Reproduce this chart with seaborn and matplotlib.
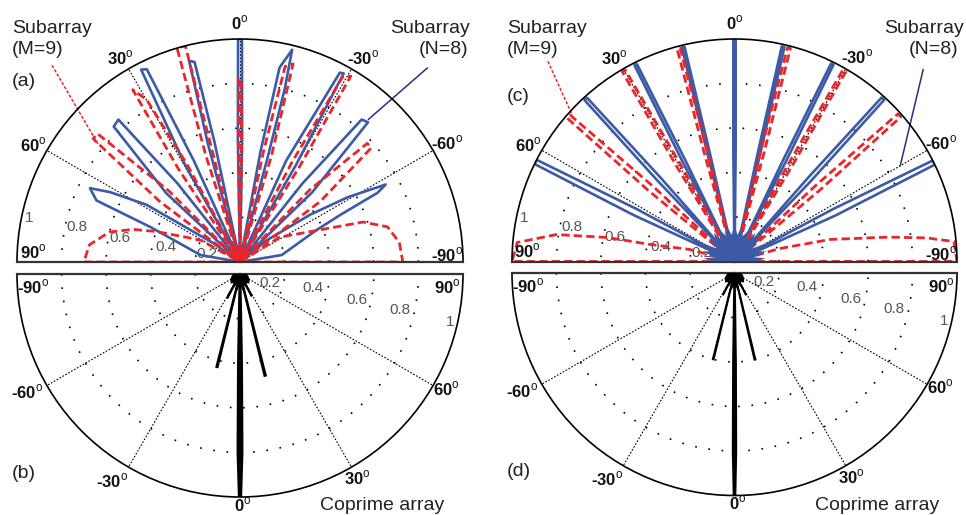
"""Subarray and coprime array beam patterns, four half-polar panels."""

import numpy as np
import matplotlib

matplotlib.use("Agg")
import matplotlib.pyplot as plt
import seaborn as sns

sns.set_theme(style="white")
plt.rcParams["font.family"] = ["Liberation Sans", "DejaVu Sans"]
plt.rcParams["mathtext.fontset"] = "custom"
plt.rcParams["mathtext.rm"] = "Liberation Sans"

BLUE = "#3c5ba6"
RED = "#e8262b"
NAVY = "#27307f"

# ---- data: (theta in degrees, magnitude) traced along each pattern ----
# panel (a), subarray N=8 (blue)
A_BLUE_DEG = [1.0, 1.0, 0.5, -0.5, -1.0, -1.0,
              12.0, 12.0, 12.8, 14.2, 15.2, 15.2,
              24.5, 24.5, 25.8, 27.2, 29.5, 29.5,
              38.5, 38.5, 40.5, 43.0, 47.0, 47.0,
              54.9, 54.9, 58.5, 61.7, 63.8, 66.8, 68.7, 80.0, 80.0,
              -10.5, -10.5, -11.5, -13.8, -14.5, -14.8, -14.8,
              -24.5, -24.5, -27.8, -28.8, -30.0, -30.0,
              -38.5, -38.5, -40.5, -42.5, -46.0, -46.0,
              -51.0, -51.0, -56.0, -59.0, -62.0, -63.3, -64.8, -67.4, -80.5, -80.5]
A_BLUE_R = [0, 0.55, 1.0, 1.0, 0.55, 0,
            0, 0.55, 0.92, 0.93, 0.55, 0,
            0, 0.5, 0.96, 0.97, 0.5, 0,
            0, 0.45, 0.84, 0.83, 0.45, 0,
            0, 0.15, 0.49, 0.66, 0.75, 0.70, 0.43, 0.18, 0,
            0, 0.5, 0.89, 0.98, 0.8, 0.5, 0,
            0, 0.5, 0.96, 0.965, 0.5, 0,
            0, 0.45, 0.84, 0.85, 0.45, 0,
            0, 0.156, 0.38, 0.565, 0.74, 0.69, 0.5, 0.37, 0.19, 0]

# panel (a), subarray M=9 (red)
A_RED_DEG = [0.8, 0.8, 0.3, -0.3, -0.8, -0.8,
             14.0, 14.0, 14.2, 16.4, 17.8, 17.8,
             28.5, 28.5, 29.9, 31.9, 33.5, 33.5,
             45.0, 45.0, 48.0, 50.0, 53.0, 53.0,
             61.0, 61.0, 65.0, 70.0, 73.0, 77.0, 83.5, 90.0, 90.0,
             -12.0, -12.0, -13.0, -15.0, -16.5, -16.5,
             -27.5, -27.5, -29.0, -30.8, -32.0, -32.0,
             -44.0, -44.0, -47.0, -49.0, -53.0, -53.0,
             -58.0, -58.0, -72.0, -76.6, -83.0, -90.0, -90.0]
A_RED_R = [0, 0.5, 0.82, 0.82, 0.5, 0,
           0, 0.5, 1.0, 1.0, 0.5, 0,
           0, 0.5, 0.84, 0.91, 0.5, 0,
           0, 0.45, 0.86, 0.86, 0.45, 0,
           0, 0.2, 0.26, 0.40, 0.50, 0.60, 0.68, 0.70, 0,
           0, 0.5, 0.9, 0.92, 0.5, 0,
           0, 0.5, 0.95, 0.97, 0.5, 0,
           0, 0.45, 0.78, 0.78, 0.45, 0,
           0, 0.21, 0.58, 0.68, 0.72, 0.73, 0]

# panel (c), subarray N=8 (blue)
C_BLUE_DEG = [0.6, 0.6, 0.3, -0.3, -0.6, -0.6,
              12.8, 12.8, 13.1, 13.8, 14.1, 14.1,
              25.9, 25.9, 26.3, 27.0, 27.5, 27.5,
              41.4, 41.4, 42.0, 42.9, 43.6, 43.6,
              61.8, 61.8, 62.8, 64.0, 65.3, 65.3,
              -12.1, -12.1, -12.4, -13.1, -13.4, -13.4,
              -25.6, -25.6, -26.0, -26.7, -27.2, -27.2,
              -41.3, -41.3, -41.9, -42.8, -43.5, -43.5,
              -62.0, -62.0, -63.0, -64.2, -65.5, -65.5]
C_BLUE_R = [0, 0.5, 1.0, 1.0, 0.5, 0,
            0, 0.5, 0.99, 0.99, 0.5, 0,
            0, 0.5, 0.99, 0.99, 0.5, 0,
            0, 0.5, 0.99, 0.99, 0.5, 0,
            0, 0.5, 1.0, 1.0, 0.5, 0,
            0, 0.5, 0.99, 0.99, 0.5, 0,
            0, 0.5, 0.99, 0.99, 0.5, 0,
            0, 0.5, 0.99, 0.99, 0.5, 0,
            0, 0.5, 1.0, 1.0, 0.5, 0]
# sidelobe clutter around the origin in (c)
C_BLOB_DEG = [-90, -90, -84, -78, -72, -66, -60, -54, -48, -42, -36, -30, -24, -18, -12, -6,
              0, 6, 12, 18, 24, 30, 36, 42, 48, 54, 60, 66, 72, 78, 84, 90, 90]
C_BLOB_R = [0, 0.10, 0.14, 0.09, 0.15, 0.11, 0.16, 0.10, 0.15, 0.12, 0.16, 0.11, 0.15, 0.12, 0.16, 0.12,
            0.17, 0.12, 0.16, 0.12, 0.15, 0.11, 0.16, 0.12, 0.15, 0.10, 0.16, 0.11, 0.15, 0.09, 0.14, 0.10, 0]

# panel (c), subarray M=9 (red)
C_RED_DEG = [13.8, 13.8, 14.3, 15.1, 15.6, 15.6,
             29.1, 29.1, 29.7, 30.6, 31.3, 31.3,
             47.3, 47.3, 48.3, 49.4, 50.5, 50.5,
             75.0, 75.0, 78.6, 79.3, 81.4, 85.0, 90.0, 90.0,
             -13.4, -13.4, -13.9, -14.7, -15.2, -15.2,
             -28.9, -28.9, -29.5, -30.4, -31.1, -31.1,
             -46.9, -46.9, -47.9, -49.0, -50.1, -50.1,
             -74.0, -74.0, -77.0, -81.0, -83.0, -84.8, -90.0, -90.0]
C_RED_R = [0, 0.5, 0.99, 0.99, 0.5, 0,
           0, 0.5, 0.99, 0.99, 0.5, 0,
           0, 0.5, 0.99, 0.99, 0.5, 0,
           0, 0.21, 0.39, 0.58, 0.81, 0.98, 1.0, 0,
           0, 0.5, 0.99, 0.99, 0.5, 0,
           0, 0.5, 0.99, 0.99, 0.5, 0,
           0, 0.5, 0.99, 0.99, 0.5, 0,
           0, 0.21, 0.44, 0.70, 0.87, 0.99, 1.0, 0]

# panels (b) and (d), coprime array (black)
B_LOBE_DEG = [-2.2, -2.2, -1.3, -0.8, -0.3, 0.3, 0.8, 1.3, 2.2, 2.2,
              -14.8, -14.8, -14.3, -13.5, -13.0, -13.0,
              13.0, 13.0, 13.5, 14.3, 14.8, 14.8,
              -29.0, -29.0, -28.5, -27.5, -27.0, -27.0,
              27.0, 27.0, 27.5, 28.5, 29.0, 29.0]
B_LOBE_R = [0, 0.1, 0.4, 0.8, 1.0, 1.0, 0.8, 0.4, 0.1, 0,
            0, 0.1, 0.43, 0.43, 0.1, 0,
            0, 0.1, 0.47, 0.47, 0.1, 0,
            0, 0.05, 0.12, 0.12, 0.05, 0,
            0, 0.05, 0.11, 0.11, 0.05, 0]
D_LOBE_DEG = [-1.6, -1.6, -1.0, -0.6, -0.25, 0.25, 0.6, 1.0, 1.6, 1.6,
              -14.6, -14.6, -14.2, -13.5, -13.1, -13.1,
              12.5, 12.5, 12.9, 13.7, 14.1, 14.1,
              -29.0, -29.0, -28.5, -27.5, -27.0, -27.0,
              27.0, 27.0, 27.5, 28.5, 29.0, 29.0]
D_LOBE_R = [0, 0.1, 0.4, 0.8, 1.0, 1.0, 0.8, 0.4, 0.1, 0,
            0, 0.1, 0.40, 0.40, 0.1, 0,
            0, 0.1, 0.40, 0.40, 0.1, 0,
            0, 0.05, 0.11, 0.11, 0.05, 0,
            0, 0.05, 0.11, 0.11, 0.05, 0]
CO_BLOB_DEG = [-90, -90, -75, -60, -45, -35, -25, -18, -10, -5, 0, 5, 10, 18, 25, 35, 45, 60, 75, 90, 90]
CO_BLOB_R = [0, 0.03, 0.04, 0.05, 0.06, 0.05, 0.07, 0.05, 0.08, 0.06, 0.08,
             0.06, 0.08, 0.05, 0.07, 0.05, 0.06, 0.05, 0.04, 0.03, 0]

ANGLE_TICKS = [-60, -30, 0, 30, 60]
RING_TICKS = [0.2, 0.4, 0.6, 0.8]

W, H = 966, 515
fig = plt.figure(figsize=(W / 100, H / 100), dpi=100)


def deg(a):
    return np.deg2rad(np.asarray(a, dtype=float))


def half_polar(left, top, width, zero):
    # polar axes keep equal aspect, so give a square box centred on the half disc
    cy = top + width / 4
    rect = [left / W, 1 - (cy + width / 2) / H, width / W, width / H]
    ax = fig.add_axes(rect, projection="polar")
    ax.set_theta_zero_location(zero)
    ax.set_theta_direction(1)
    ax.set_thetalim(-np.pi / 2, np.pi / 2)
    ax.set_thetagrids(ANGLE_TICKS, labels=[""] * len(ANGLE_TICKS))
    ax.set_rgrids(RING_TICKS, labels=[""] * len(RING_TICKS))
    ax.tick_params(length=0)
    ax.grid(True, axis="x", color="black", linewidth=0.8, linestyle=(0, (1.5, 1.5)))
    ax.grid(True, axis="y", color="black", linewidth=1.2, linestyle=(0, (1, 7)))
    ax.set_facecolor("white")
    ax.spines["polar"].set_linewidth(1.2)
    ax.spines["polar"].set_color("black")
    for s in ("start", "end"):
        ax.spines[s].set_linewidth(1.6)
        ax.spines[s].set_color("#333333")
    ax.set_rlim(0, 1)
    return ax


def curve(ax, th, r, color, lw, ls="-"):
    sns.lineplot(x=deg(th), y=np.asarray(r, dtype=float), ax=ax, sort=False, estimator=None,
                 color=color, linewidth=lw, linestyle=ls)


def angle_labels(ax, spec):
    for txt, t, r in spec:
        ax.text(np.deg2rad(t), r, txt + r"$^{\rm o}$", ha="center", va="center",
                fontsize=12, fontweight="bold", color="#111111", clip_on=False, zorder=6)


def ring_labels(ax, spec):
    for txt, t, r in spec:
        ax.text(np.deg2rad(t), r, txt, ha="center", va="center", fontsize=11,
                color="#555555", zorder=1)


UP_ANG = [("0", 0, 1.07), ("30", 30.5, 1.06), ("-30", -31, 1.07), ("60", 60.5, 1.066),
          ("-60", -60, 1.07), ("90", 87.2, 0.93), ("-90", -88, 0.93)]
LO_ANG = [("-90", -86.4, 0.93), ("-60", -61, 1.09), ("-30", -31.8, 1.09), ("0", 0.7, 1.035),
          ("30", 29.8, 1.055), ("60", 61, 1.06), ("90", 86.4, 0.93)]
UP_RING = [("1", 78.2, 0.967), ("0.8", 77.9, 0.748), ("0.6", 78.5, 0.549),
           ("0.4", 78.9, 0.338), ("0.2", 76, 0.152)]
LO_RING = [("0.2", 73, 0.14), ("0.4", 79, 0.333), ("0.6", 77.5, 0.537),
           ("0.8", 77.3, 0.735), ("1", 77.1, 0.966)]

dash_red = (0, (3, 1.5))
fine_dash = (0, (2, 1.2))

# ---- (a) ----
ax_a = half_polar(17, 39, 446, "N")
curve(ax_a, A_BLUE_DEG, A_BLUE_R, BLUE, 1.9)
curve(ax_a, A_RED_DEG, A_RED_R, RED, 2.0, dash_red)
ax_a.plot(deg([43.7, 50.5]), [1.22, 0.82], color=RED, lw=1.1, ls=fine_dash, clip_on=False)
ax_a.plot(deg([-44, -42]), [1.21, 0.86], color=NAVY, lw=1.1, clip_on=False)
angle_labels(ax_a, UP_ANG)
ring_labels(ax_a, UP_RING)
ax_a.set_rlim(0, 1)

# ---- (b) ----
ax_b = half_polar(17, 274, 446, "S")
ax_b.fill(deg(CO_BLOB_DEG), CO_BLOB_R, color="black", lw=0, zorder=3)
ax_b.fill(deg(B_LOBE_DEG), B_LOBE_R, facecolor="black", edgecolor="black", lw=1.4, zorder=3)
angle_labels(ax_b, LO_ANG)
ring_labels(ax_b, LO_RING)
ax_b.set_rlim(0, 1)

# ---- (c) ----
ax_c = half_polar(512, 39, 445, "N")
curve(ax_c, C_BLUE_DEG, C_BLUE_R, BLUE, 1.9)
ax_c.fill(deg(C_BLOB_DEG), C_BLOB_R, color=BLUE, lw=0, zorder=4)
curve(ax_c, C_RED_DEG, C_RED_R, RED, 2.0, dash_red)
ax_c.plot(deg([43, 48]), [1.23, 0.98], color=RED, lw=1.1, ls=fine_dash, clip_on=False)
ax_c.plot(deg([-44.5, -60]), [1.21, 0.86], color=NAVY, lw=1.1, clip_on=False)
angle_labels(ax_c, UP_ANG)
ring_labels(ax_c, UP_RING)
ax_c.set_rlim(0, 1)

# ---- (d) ----
ax_d = half_polar(512, 273, 445, "S")
ax_d.fill(deg(CO_BLOB_DEG), CO_BLOB_R, color="black", lw=0, zorder=3)
ax_d.fill(deg(D_LOBE_DEG), D_LOBE_R, facecolor="black", edgecolor="black", lw=1.2, zorder=3)
angle_labels(ax_d, LO_ANG)
ring_labels(ax_d, LO_RING)
ax_d.set_rlim(0, 1)

# ---- figure texts ----
txt = dict(fontsize=14, color="#222222", va="baseline")
for x0, lab in ((12, "(M=9)"), (507, "(M=9)")):
    fig.text(x0 / W, 1 - 32.7 / H, "Subarray", ha="left", **txt)
    fig.text(x0 / W, 1 - 54 / H, lab, ha="left", **txt)
for x1, x2 in ((470, 468), (964, 958)):
    fig.text(x1 / W, 1 - 32.7 / H, "Subarray", ha="right", **txt)
    fig.text(x2 / W, 1 - 54 / H, "(N=8)", ha="right", **txt)
for x0, y0, lab in ((12, 86, "(a)"), (12, 478, "(b)"), (507, 101, "(c)"), (507, 476, "(d)")):
    fig.text(x0 / W, 1 - y0 / H, lab, ha="left", **txt)
for x0 in (320, 815):
    fig.text(x0 / W, 1 - 510 / H, "Coprime array", ha="left", **txt)

fig.savefig("out.png", dpi=100)
